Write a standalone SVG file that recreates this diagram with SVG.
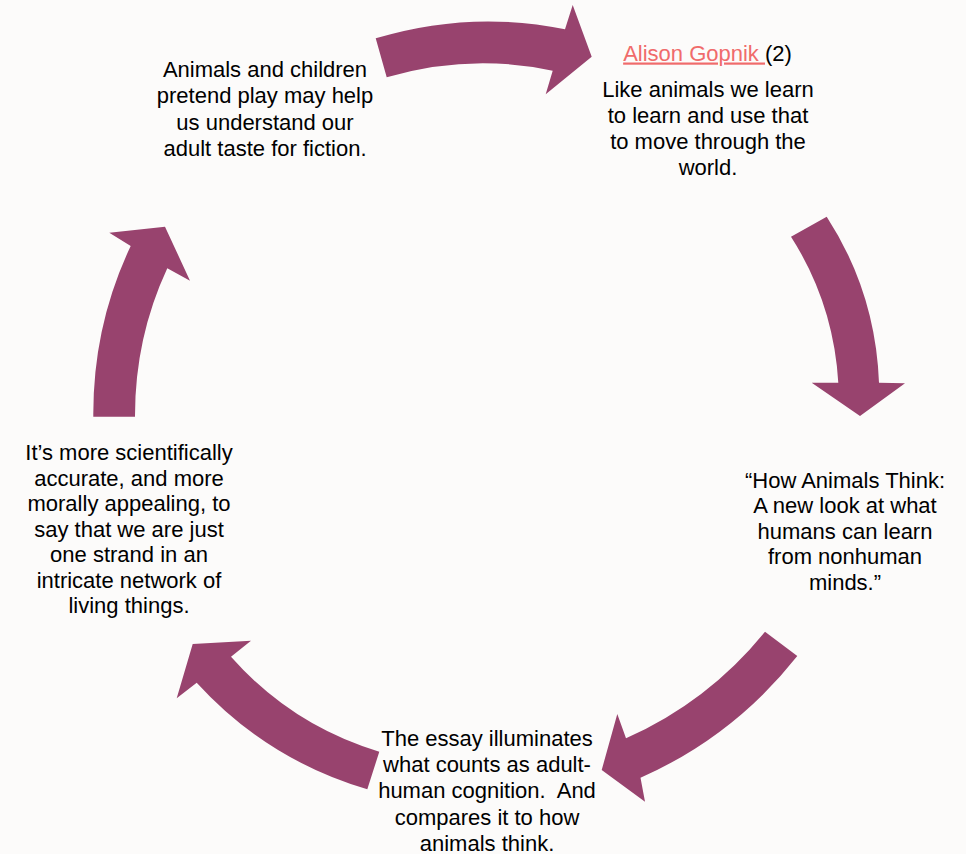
<svg xmlns="http://www.w3.org/2000/svg" width="966" height="854" viewBox="0 0 966 854">
<style>
.t{font-family:"Liberation Sans",Arial,sans-serif;font-size:22px;fill:#000;text-anchor:middle;white-space:pre}
.arr{fill:#98436E;stroke:none}
.link{fill:#F06B6B;text-decoration:underline;white-space:pre}
</style>
<rect width="966" height="854" fill="#FCFBFA"/>
<g id="connectors">
<path class="arr" d="M375.7,38.3 Q470.3,9.8 565,29.3 L572.7,5 L591.7,56.7 L545.7,94.3 L552.7,70.7 Q469.7,53 386.7,77.3 Z"/>
<path class="arr" d="M826.7,216.7 Q875.5,291.8 879,382.7 L905,383.3 L860,416 L811.7,382.7 L838.3,382.7 Q833.5,303.1 791,236.7 Z"/>
<path class="arr" d="M797.3,656 Q733.8,736.3 640.5,777.8 L645,801.7 L601.7,770 L617.3,714 L626,738.3 Q708.4,701.6 765,631.7 Z"/>
<path class="arr" d="M379.3,751.7 Q291.7,725.3 231,656.7 L251,640.7 L192.7,644 L176.7,698.3 L196.7,682.7 Q266.9,759.6 367.3,789.3 Z"/>
<path class="arr" d="M93.3,416.7 Q92.7,326.1 130.7,246 L109.3,232.7 L165,226.7 L190,280.7 L167.3,268.3 Q134.8,338.1 135,416.7 Z"/>
</g>
<g id="node1">
<text class="t" x="265" y="77">Animals and children</text>
<text class="t" x="265" y="103.3">pretend play may help</text>
<text class="t" x="265" y="129.6">us understand our</text>
<text class="t" x="265" y="156">adult taste for fiction.</text>
</g>
<g id="node2">
<text class="t" x="707.5" y="60.5"><tspan class="link">Alison Gopnik </tspan>(2)</text>
<text class="t" x="708" y="96.7">Like animals we learn</text>
<text class="t" x="708" y="122.8">to learn and use that</text>
<text class="t" x="708" y="148.9">to move through the</text>
<text class="t" x="708" y="175">world.</text>
</g>
<g id="node3">
<text class="t" x="845" y="487.5">“How Animals Think:</text>
<text class="t" x="845" y="513">A new look at what</text>
<text class="t" x="845" y="538.5">humans can learn</text>
<text class="t" x="845" y="564">from nonhuman</text>
<text class="t" x="845" y="589.5">minds.”</text>
</g>
<g id="node4">
<text class="t" x="487" y="746">The essay illuminates</text>
<text class="t" x="487" y="772">what counts as adult-</text>
<text class="t" x="487" y="798.2">human cognition.  And</text>
<text class="t" x="487" y="824.5">compares it to how</text>
<text class="t" x="487" y="850.7">animals think.</text>
</g>
<g id="node5">
<text class="t" x="129" y="460">It’s more scientifically</text>
<text class="t" x="129" y="485.5">accurate, and more</text>
<text class="t" x="129" y="511">morally appealing, to</text>
<text class="t" x="129" y="536.5">say that we are just</text>
<text class="t" x="129" y="562">one strand in an</text>
<text class="t" x="129" y="587.5">intricate network of</text>
<text class="t" x="129" y="613">living things.</text>
</g>
</svg>
